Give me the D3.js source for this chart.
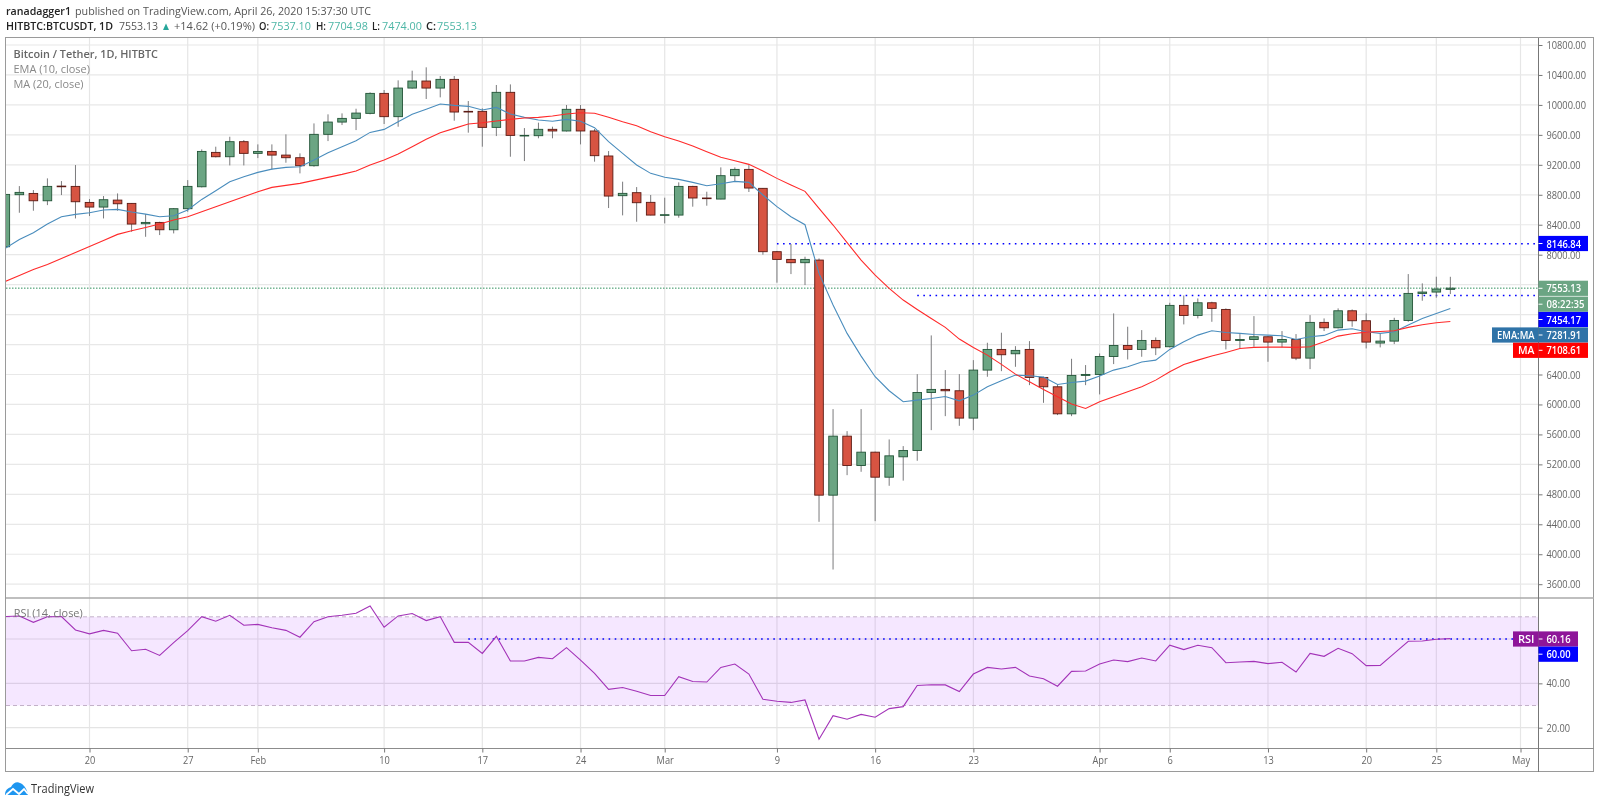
<!DOCTYPE html>
<html>
<head>
<meta charset="utf-8">
<script src="https://d3js.org/d3.v7.min.js"></script>
<style>
  html, body { margin: 0; padding: 0; background: #fff; }
  svg { display: block; filter: blur(0.35px); }
  text { font-family: "Open Sans", sans-serif; }
</style>
</head>
<body>
<div id="chart"></div>
<script>
const firstDay = "2020-01-14";

const opens = [
  8106,8801,8818,8720,8916,8912,8698,8636,8729,8685,
  8413,8431,8333,8614,8907,9366,9308,9509,9353,9379,
  9330,9295,9188,9607,9771,9820,9887,10154,9843,10225,
  10319,10225,10341,9914,9914,9700,10168,9589,9589,9674,
  9652,9941,9652,9318,8788,8828,8699,8525,8529,8912,
  8757,8743,9055,9139,8886,8040,7937,7893,7928,4789,
  5577,5185,5363,5029,5301,5386,6160,6201,6183,5818,
  6459,6735,6677,6735,6361,6236,5875,6388,6401,6641,
  6788,6735,6855,6771,7323,7189,7358,7269,6855,6868,
  6904,6833,6868,6619,7096,7024,7251,7118,6820,6846,
  7122,7483,7501,7537.10];
const highs = [
  8830,8916,8863,9019,8983,9197,8743,8783,8818,8690,
  8542,8440,8622,8996,9406,9442,9575,9531,9473,9473,
  9607,9353,9753,9874,9887,9949,10168,10199,10328,10457,
  10502,10386,10386,10052,9954,10266,10274,9691,9763,9709,
  9999,9999,9678,9384,8975,8903,8797,8761,8966,8920,
  8841,9166,9166,9197,8890,8050,8142,7973,7950,5938,
  5644,5938,5370,5533,5444,6405,6922,6459,6405,6592,
  6824,6958,6779,6846,6370,6272,6610,6526,6681,7216,
  7038,6993,6895,7358,7456,7416,7372,7283,6940,7180,
  6910,6980,6940,7193,7149,7283,7269,7216,6949,7158,
  7741,7617,7706,7704.98];
const lows = [
  8060,8560,8587,8662,8796,8484,8516,8484,8587,8306,
  8239,8262,8284,8573,8898,9299,9192,9192,9290,9139,
  9228,9086,9175,9517,9731,9664,9874,9745,9709,10217,
  10079,10101,9789,9629,9442,9584,9308,9250,9554,9554,
  9645,9473,9242,8623,8525,8440,8525,8418,8494,8641,
  8654,8740,8975,8837,8000,7626,7741,7594,4433,3796,
  5056,5101,4442,4914,4983,5248,5657,5844,5715,5657,
  6370,6445,6503,6258,6022,5858,5844,6258,6134,6539,
  6601,6637,6659,6762,7069,7149,7104,6735,6748,6771,
  6570,6762,6592,6472,6980,7015,7038,6748,6762,6806,
  7104,7385,7425,7474.00];
const closes = [
  8805,8832,8720,8912,8907,8707,8636,8734,8680,8409,
  8431,8333,8614,8912,9379,9308,9509,9353,9379,9330,
  9295,9188,9607,9771,9820,9891,10154,9843,10225,10319,
  10225,10341,9905,9905,9700,10168,9593,9593,9674,9652,
  9941,9652,9322,8783,8819,8694,8529,8534,8912,8757,
  8748,9055,9139,8890,8040,7937,7893,7937,4789,5577,
  5185,5363,5029,5314,5386,6160,6201,6183,5818,6459,
  6735,6664,6722,6361,6236,5875,6388,6401,6641,6788,
  6735,6855,6757,7323,7189,7358,7283,6855,6868,6904,
  6833,6868,6619,7096,7024,7251,7118,6833,6846,7122,
  7483,7501,7541,7553.13];
const emaValues = [
  8084,8204,8293,8409,8507,8538,8560,8596,8605,8569,
  8542,8507,8520,8596,8738,8854,8974,9041,9099,9143,
  9166,9175,9264,9362,9442,9522,9633,9673,9776,9874,
  9941,10012,9994,9981,9932,9967,9878,9834,9798,9781,
  9807,9781,9696,9509,9353,9197,9086,9033,9006,8966,
  8921,8948,8979,8966,8797,8641,8507,8400,7750,7327,
  6949,6646,6370,6183,6036,6058,6080,6107,6049,6125,
  6236,6316,6392,6383,6365,6267,6294,6312,6379,6459,
  6503,6566,6592,6735,6837,6926,6984,6962,6949,6935,
  6926,6917,6868,6904,6922,6993,7011,6971,6949,6971,
  7060,7149,7216,7281.91];
const maValues = [
  7643,7723,7803,7870,7950,8030,8110,8190,8271,8320,
  8364,8409,8462,8507,8573,8640,8707,8774,8841,8899,
  8925,8952,8992,9032,9072,9117,9197,9264,9344,9442,
  9540,9629,9687,9745,9762,9785,9807,9825,9834,9852,
  9879,9896,9888,9834,9776,9723,9643,9576,9518,9451,
  9375,9300,9255,9206,9117,9019,8930,8846,8618,8396,
  8160,7928,7728,7550,7394,7269,7149,7029,6873,6762,
  6659,6535,6405,6303,6201,6103,6005,5947,6036,6103,
  6169,6236,6325,6437,6535,6592,6646,6695,6748,6762,
  6766,6766,6762,6771,6837,6913,6944,6966,6975,6984,
  7029,7064,7091,7108.61];
const rsiValues = [
  70.1,70.4,67.5,70.0,70.1,64.1,62.3,63.9,62.6,54.7,
  55.4,52.6,58.4,63.8,70.1,68.0,70.7,66.2,66.6,65.1,
  63.9,60.8,67.8,70.0,70.7,71.6,74.9,65.3,70.4,71.5,
  68.3,70.1,58.5,58.5,53.5,61.2,50.1,50.1,51.7,51.1,
  56.1,50.5,44.5,37.3,38.1,36.4,34.5,34.5,43.0,40.8,
  40.6,47.2,48.7,44.2,32.8,31.9,31.4,32.5,14.8,25.4,
  23.8,26.0,24.7,28.6,29.5,39.0,39.4,39.3,36.3,44.2,
  47.2,46.5,47.2,43.3,42.1,38.7,45.4,45.6,48.7,50.5,
  49.8,51.4,50.1,57.2,55.2,57.2,56.1,49.3,49.6,49.9,
  48.9,49.5,45.1,53.5,52.2,55.8,53.4,48.0,48.1,53.5,
  59.0,59.1,59.9,60.16];

const priceTicks = [10800,10400,10000,9600,9200,8800,8400,8000,7600,7200,6800,6400,6000,5600,5200,4800,4400,4000,3600];
const priceLabelTicks = [10800,10400,10000,9600,9200,8800,8400,8000,6400,6000,5600,5200,4800,4400,4000,3600];
const rsiTicks = [20,40,60];
const rsiLabelTicks = [20,40];
const dateTicks = ["2020-01-20","2020-01-27","2020-02-01","2020-02-10","2020-02-17","2020-02-24","2020-03-01","2020-03-09","2020-03-16","2020-03-23","2020-04-01","2020-04-06","2020-04-13","2020-04-20","2020-04-25","2020-05-01"];
const dateLabels = ["20","27","Feb","10","17","24","Mar","9","16","23","Apr","6","13","20","25","May"];

const lastPrice = 7553.13, resistHigh = 8146.84, resistLow = 7454.17, rsiLevel = 60;

const w = 1600, h = 805;
const plotL = 6, plotR = 1538.5, plotT = 38, split = 598, axisY = 748.5, plotB = 772, outer = 1594;

const day0 = d3.isoParse(firstDay + "T00:00:00Z");
const candles = opens.map((o, i) => ({
  date: d3.utcDay.offset(day0, i), o, h: highs[i], l: lows[i], c: closes[i],
  ema: emaValues[i], ma: maValues[i], rsi: rsiValues[i]
}));
const parse = s => d3.isoParse(s + "T00:00:00Z");

const x = d3.scaleUtc().domain([parse("2020-01-20"), parse("2020-05-01")]).range([89.5, 1520.5]);
const y = d3.scaleLinear().domain([3600, 10800]).range([584.2, 45]);
const yRsi = d3.scaleLinear().domain([20, 60]).range([727.7, 639]);

const svg = d3.select("#chart").append("svg").attr("width", w).attr("height", h);

// little helper, width squeezes the text to what the picture has
const label = (str, px, py, o = {}) => svg.append("text")
  .attr("x", px).attr("y", py)
  .attr("font-size", o.size || 11)
  .attr("font-weight", o.weight || 400)
  .attr("fill", o.color || "#555")
  .attr("text-anchor", o.anchor || "start")
  .attr("data-w", o.width || null)
  .text(str);

svg.append("defs").append("clipPath").attr("id", "plot")
  .append("rect").attr("x", plotL).attr("y", plotT).attr("width", plotR - plotL).attr("height", axisY - plotT);

// grid
const grid = svg.append("g");
grid.selectAll(".gx").data(dateTicks).enter().append("line")
  .attr("x1", d => x(parse(d))).attr("x2", d => x(parse(d)))
  .attr("y1", plotT).attr("y2", axisY)
  .attr("stroke", "#e6e6e6").attr("stroke-width", 1.2);
grid.selectAll(".gy").data(priceTicks).enter().append("line")
  .attr("x1", plotL).attr("x2", plotR)
  .attr("y1", d => y(d)).attr("y2", d => y(d))
  .attr("stroke", "#e8e8e8").attr("stroke-width", 1.2);
grid.selectAll(".gr").data(rsiTicks).enter().append("line")
  .attr("x1", plotL).attr("x2", plotR)
  .attr("y1", d => yRsi(d)).attr("y2", d => yRsi(d))
  .attr("stroke", "#e4e4e4").attr("stroke-width", 1.2);

// rsi band
svg.append("rect")
  .attr("x", plotL).attr("width", plotR - plotL)
  .attr("y", yRsi(70)).attr("height", yRsi(30) - yRsi(70))
  .attr("fill", "#9915ff").attr("fill-opacity", 0.1);
[70, 30].forEach(v => svg.append("line")
  .attr("x1", plotL).attr("x2", plotR).attr("y1", yRsi(v)).attr("y2", yRsi(v))
  .attr("stroke", "#c3b0c9").attr("stroke-dasharray", "4,3"));

const plot = svg.append("g").attr("clip-path", "url(#plot)");

// level lines
plot.append("line").attr("x1", plotL).attr("x2", plotR).attr("y1", y(lastPrice)).attr("y2", y(lastPrice))
  .attr("stroke", "#2f8f5c").attr("stroke-dasharray", "1.5,1.5");
const dotted = (d0, yy) => plot.append("line")
  .attr("x1", x(parse(d0))).attr("x2", plotR).attr("y1", yy).attr("y2", yy)
  .attr("stroke", "#0000ff").attr("stroke-width", 1.6).attr("stroke-dasharray", "1.6,4.5");
dotted("2020-03-09", y(resistHigh));
dotted("2020-03-19", y(resistLow));
dotted("2020-02-16", yRsi(rsiLevel));

// candles
const bw = 8.6;
const bars = plot.selectAll(".c").data(candles).enter().append("g");
bars.append("line")
  .attr("x1", d => x(d.date)).attr("x2", d => x(d.date))
  .attr("y1", d => y(d.h)).attr("y2", d => y(d.l))
  .attr("stroke", "#7b7b7d").attr("stroke-width", 1);
bars.append("rect")
  .attr("x", d => x(d.date) - bw / 2).attr("width", bw)
  .attr("y", d => y(Math.max(d.o, d.c)))
  .attr("height", d => Math.max(0.6, Math.abs(y(d.o) - y(d.c))))
  .attr("fill", d => d.c >= d.o ? "#6ba583" : "#d75442")
  .attr("stroke", d => d.c >= d.o ? "#225437" : "#5b1a13").attr("stroke-width", 0.9);

// lines
const emaLine = d3.line().x(d => x(d.date)).y(d => y(d.ema));
const maLine = d3.line().x(d => x(d.date)).y(d => y(d.ma));
const rsiLine = d3.line().x(d => x(d.date)).y(d => yRsi(d.rsi));
plot.append("path").attr("d", emaLine(candles)).attr("fill", "none").attr("stroke", "#4a8dbd").attr("stroke-width", 1.1);
plot.append("path").attr("d", maLine(candles)).attr("fill", "none").attr("stroke", "#ff2a2a").attr("stroke-width", 1.1);
plot.append("path").attr("d", rsiLine(candles)).attr("fill", "none").attr("stroke", "#a333b8").attr("stroke-width", 1.1);

// frame
const frameColor = "#8c8c8c";
svg.append("rect").attr("x", plotL - 0.5).attr("y", plotT - 0.5).attr("width", outer - plotL).attr("height", plotB - plotT)
  .attr("fill", "none").attr("stroke", "#9a9a9a").attr("stroke-width", 1);
svg.append("line").attr("x1", plotL).attr("x2", outer).attr("y1", split).attr("y2", split).attr("stroke", "#aaa").attr("stroke-width", 1.3);
svg.append("line").attr("x1", plotL).attr("x2", outer).attr("y1", axisY).attr("y2", axisY).attr("stroke", frameColor);
svg.append("line").attr("x1", plotR).attr("x2", plotR).attr("y1", plotT).attr("y2", plotB).attr("stroke", "#777");

// axes
const priceAxis = svg.append("g").attr("transform", `translate(${plotR},0)`)
  .call(d3.axisRight(y).tickValues(priceLabelTicks).tickFormat(d3.format(".2f")).tickSize(4).tickPadding(4));
const rsiAxis = svg.append("g").attr("transform", `translate(${plotR},0)`)
  .call(d3.axisRight(yRsi).tickValues(rsiLabelTicks).tickFormat(d3.format(".2f")).tickSize(4).tickPadding(4));
const timeAxis = svg.append("g").attr("transform", `translate(0,${axisY})`)
  .call(d3.axisBottom(x).tickValues(dateTicks.map(parse)).tickFormat((d, i) => dateLabels[i]).tickSize(4).tickPadding(4));
[priceAxis, rsiAxis, timeAxis].forEach(a => {
  a.select(".domain").remove();
  a.selectAll("line").attr("stroke", "#777");
  a.selectAll("text").attr("font-family", '"Open Sans", sans-serif').attr("font-size", 11).attr("fill", "#666");
});

// price tags on the right axis
const tag = (str, yMid, fill, x1) => {
  svg.append("rect").attr("x", plotR).attr("y", yMid - 7.6).attr("width", x1 - plotR).attr("height", 15.2).attr("fill", fill);
  svg.append("line").attr("x1", plotR).attr("x2", plotR + 4).attr("y1", yMid).attr("y2", yMid).attr("stroke", "#fff");
  label(str, plotR + 8, yMid + 4, { color: "#fff", weight: 600, width: str.length === 8 ? 38 : (str.length === 5 ? 24 : 34.5) });
};
const sideTag = (str, yMid, fill, x0) => {
  svg.append("rect").attr("x", x0).attr("y", yMid - 7.6).attr("width", plotR - x0).attr("height", 15.2).attr("fill", fill);
  label(str, plotR - 4, yMid + 4, { color: "#fff", weight: 600, anchor: "end", width: plotR - x0 - 9 });
};
tag("8146.84", 243.5, "#0000ff", 1588);
tag("7553.13", 288.3, "#6ba583", 1588);
tag("08:22:35", 304.2, "#6ba583", 1588);
tag("7454.17", 319.5, "#0000ff", 1588);
tag("7281.91", 335, "#2f73a8", 1588);
sideTag("EMA:MA", 335, "#2f73a8", 1492);
tag("7108.61", 350.3, "#ff0000", 1588);
sideTag("MA", 350.3, "#ff0000", 1513);
tag("60.16", 639, "#8e1599", 1578);
sideTag("RSI", 639, "#8e1599", 1513);
tag("60.00", 654.2, "#0000ff", 1578);

// header
label("ranadagger1", 6, 15, { weight: 600, color: "#222", width: 65 });
label("published on TradingView.com, April 26, 2020 15:37:30 UTC", 75, 15, { width: 296 });
label("HITBTC:BTCUSDT, 1D", 6, 30, { weight: 600, color: "#222", width: 107 });
label("7553.13", 119, 30, { width: 39 });
label("▲", 161, 30, { color: "#26a69a", width: 10 });
label("+14.62 (+0.19%)", 174, 30, { width: 81 });
[["O:", 259, "7537.10", 271], ["H:", 316, "7704.98", 328], ["L:", 372, "7474.00", 382], ["C:", 426, "7553.13", 437]].forEach(r => {
  label(r[0], r[1], 30, { weight: 600, color: "#222", width: r[0] === "L:" ? 8 : 10 });
  label(r[2], r[3], 30, { color: "#4db6a6", width: 40 });
});

// legends
label("Bitcoin / Tether, 1D, HITBTC", 13.5, 58, { weight: 600, color: "#666", width: 144.5 });
label("EMA (10, close)", 13.5, 73, { color: "#888", width: 76.5 });
label("MA (20, close)", 13.5, 88, { color: "#888", width: 70 });
label("RSI (14, close)", 13.7, 617, { color: "#777", width: 69 });

// logo
svg.append("path").attr("fill", "#1e96f0")
  .attr("d", "M5 795 C5 790 8 788 11 787 C13 783 17 781 20 783 C23 784 27 788 28 795 Z");
svg.append("path").attr("fill", "none").attr("stroke", "#fff").attr("stroke-width", 1.8)
  .attr("d", "M6 795 L13 789 L19 794 L24 789 L28 794");
label("TradingView", 31, 793, { size: 13, color: "#333", width: 63 });

// squeeze every text to the narrow look of the source
svg.selectAll("text").each(function () {
  const t = d3.select(this);
  const wanted = +t.attr("data-w") || this.getComputedTextLength() * 0.84;
  t.attr("textLength", wanted).attr("lengthAdjust", "spacingAndGlyphs");
});
</script>
</body>
</html>
